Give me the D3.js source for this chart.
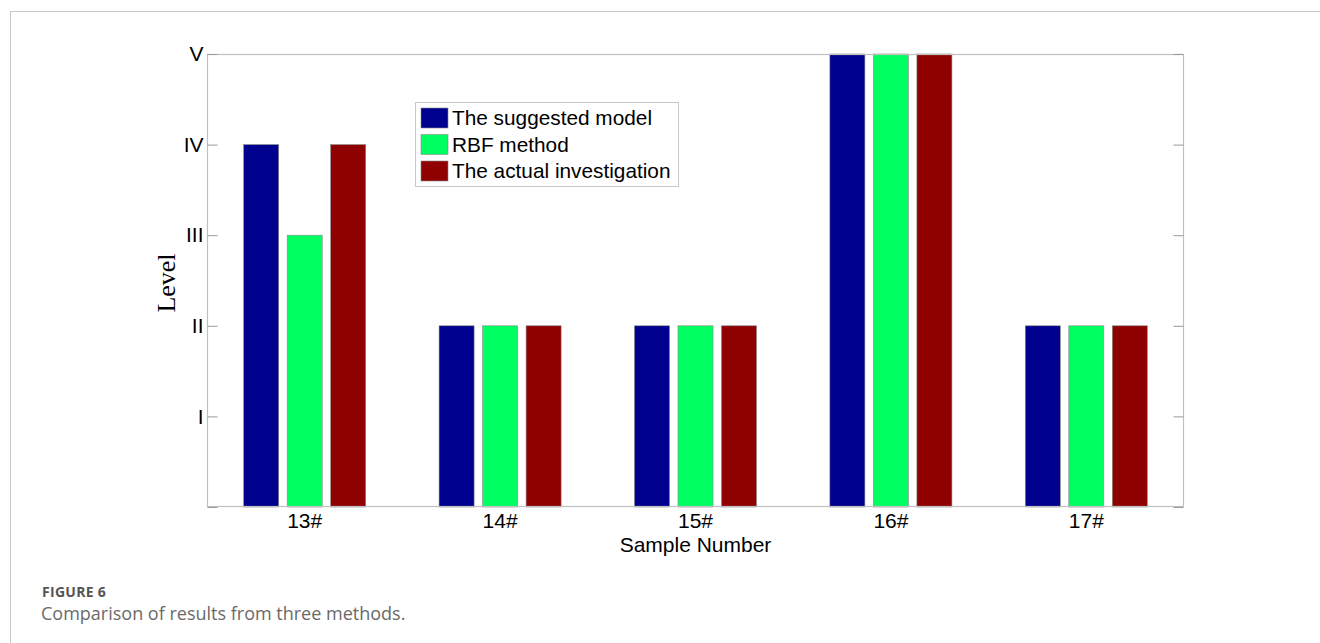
<!DOCTYPE html>
<html><head><meta charset="utf-8">
<script src="https://cdn.jsdelivr.net/npm/d3@7"></script>
<style>body{margin:0;background:#fff}svg{display:block}</style>
</head><body>
<svg id="c" width="1320" height="643"></svg>
<script>
const categories = ["13#","14#","15#","16#","17#"];
const seriesNames = ["The suggested model","RBF method","The actual investigation"];
const suggested = [4,2,2,5,2];
const rbf = [3,2,2,5,2];
const actual = [4,2,2,5,2];
const yTickValues = [1,2,3,4,5];
const yTickLabels = ["I","II","III","IV","V"];
const colors = ["#00008F","#00FF60","#8F0000"];

const series = [suggested, rbf, actual];
const svg = d3.select("#c");
const L=207, R=1184, T=54, B=507;
const sans = "'Liberation Sans', Arial, sans-serif";

// outer frame
svg.append("rect").attr("x",10.5).attr("y",11.5).attr("width",1400).attr("height",700)
  .attr("fill","none").attr("stroke","#c8c8c8").attr("stroke-width",1);

const x = d3.scaleBand().domain(categories).range([L,R]).paddingInner(0).paddingOuter(0);
const xs = d3.scaleBand().domain(d3.range(3)).range([0,x.bandwidth()]).paddingInner(0.195).paddingOuter(0.843);
const y = d3.scaleLinear().domain([0,5]).range([B,T]);

// bars
series.forEach((vals,si)=>{
  svg.append("g").selectAll("rect").data(vals).join("rect")
    .attr("x",(d,i)=>x(categories[i])+xs(si))
    .attr("y",d=>y(d))
    .attr("width",xs.bandwidth())
    .attr("height",d=>y(0)-y(d))
    .attr("fill",colors[si])
    .attr("stroke","#888").attr("stroke-width",0.6);
});

// plot box
svg.append("rect").attr("x",L+0.5).attr("y",T+0.5).attr("width",R-L-1).attr("height",B-T-1)
  .attr("fill","none").attr("stroke","#c0c0c0").attr("stroke-width",1.2);

// y axis (left ticks inward)
const yAxisL = d3.axisLeft(y).tickValues([0,...yTickValues]).tickSize(-10)
  .tickFormat(d=> d===0 ? "" : yTickLabels[yTickValues.indexOf(d)]).tickPadding(4);
const gl = svg.append("g").attr("transform",`translate(${L+0.5},0)`).call(yAxisL);
gl.select(".domain").remove();
gl.selectAll(".tick line").attr("stroke","#999");
gl.selectAll(".tick text").attr("font-family",sans).attr("font-size",21).attr("fill","#000");

const yAxisR = d3.axisRight(y).tickValues([0,...yTickValues]).tickSize(-10).tickFormat("");
const gr = svg.append("g").attr("transform",`translate(${R-0.5},0)`).call(yAxisR);
gr.select(".domain").remove();
gr.selectAll(".tick line").attr("stroke","#999");

// x axis
const xAxis = d3.axisBottom(x).tickSize(0);
const gx = svg.append("g").attr("transform",`translate(0,${B})`).call(xAxis);
gx.select(".domain").remove();
gx.selectAll(".tick text").attr("font-family",sans).attr("font-size",21).attr("fill","#000")
  .attr("y",21).attr("dy",0);

// axis titles
svg.append("text").attr("x",(L+R)/2).attr("y",552).attr("text-anchor","middle")
  .attr("font-family",sans).attr("font-size",21).text("Sample Number");
svg.append("text").attr("transform","translate(175,283) rotate(-90)").attr("text-anchor","middle")
  .attr("font-family","'Liberation Serif', 'Times New Roman', serif").attr("font-size",26).text("Level");

// legend
const lg = svg.append("g");
lg.append("rect").attr("x",415.5).attr("y",102.5).attr("width",263).attr("height",84)
  .attr("fill","#fff").attr("stroke","#c8c8c8").attr("stroke-width",1);
seriesNames.forEach((n,i)=>{
  const cy = 118 + i*26.5;
  lg.append("rect").attr("x",421).attr("y",cy-10).attr("width",27).attr("height",20)
    .attr("fill",colors[i]).attr("stroke","#888").attr("stroke-width",0.6);
  lg.append("text").attr("x",452).attr("y",cy+7).attr("font-family",sans)
    .attr("font-size",20.8).text(n);
});

// caption
svg.append("text").attr("x",42).attr("y",596.5).attr("font-family","'Open Sans', sans-serif")
  .attr("font-weight","bold").attr("font-size",14).attr("letter-spacing",0.3).attr("fill","#555").text("FIGURE 6");
svg.append("text").attr("x",41).attr("y",619.5).attr("font-family","'Open Sans', sans-serif")
  .attr("font-size",18).attr("fill","#6a6a6a").text("Comparison of results from three methods.");
</script>
</body></html>
